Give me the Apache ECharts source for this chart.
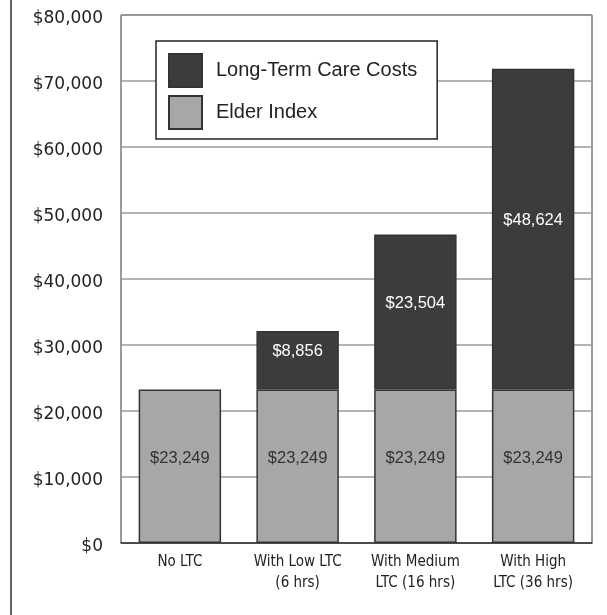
<!DOCTYPE html>
<html><head><meta charset="utf-8">
<script src="https://cdn.jsdelivr.net/npm/echarts@6/dist/echarts.min.js"></script>
<style>html,body{margin:0;padding:0;background:#fff}#c{width:607px;height:615px}</style>
</head><body><div id="c"></div>
<script>
const categories = ['No LTC', 'With Low LTC\n(6 hrs)', 'With Medium\nLTC (16 hrs)', 'With High\nLTC (36 hrs)'];
const elderIndex = [23249, 23249, 23249, 23249];
const ltcCosts = [0, 8856, 23504, 48624];
const yTicks = { min: 0, max: 80000, interval: 10000 };

const fmt = v => '$' + v.toLocaleString('en-US');
const chart = echarts.init(document.getElementById('c'), null, { renderer: 'canvas' });
chart.setOption({
  animation: false,
  backgroundColor: '#fff',
  textStyle: { fontFamily: 'Liberation Sans' },
  grid: { left: 121, right: 15, top: 15, bottom: 72, show: true, borderColor: '#333', borderWidth: 1, backgroundColor: 'transparent' },
  graphic: [{ type: 'line', shape: { x1: 11, y1: 0, x2: 11, y2: 615 }, style: { stroke: '#333', lineWidth: 1.5 } }],
  legend: {
    orient: 'vertical', left: 156, top: 41,
    padding: [12, 20, 9, 12],
    backgroundColor: '#fff', borderColor: '#222', borderWidth: 1.5,
    itemWidth: 33, itemHeight: 33, itemGap: 7,
    icon: 'rect',
    textStyle: { fontSize: 20, color: '#222', padding: [0, 0, 0, 9] },
    data: ['Long-Term Care Costs', 'Elder Index']
  },
  xAxis: {
    type: 'category', data: categories,
    axisLine: { show: true, lineStyle: { color: '#333', width: 1.5 } },
    axisTick: { show: false },
    axisLabel: { fontSize: 15, color: '#222', margin: 9, lineHeight: 21, fontFamily: "'DejaVu Sans Condensed', Roboto, sans-serif" }
  },
  yAxis: {
    type: 'value', min: yTicks.min, max: yTicks.max, interval: yTicks.interval,
    axisLine: { show: false }, axisTick: { show: false },
    splitLine: { lineStyle: { color: '#9a9a9a', width: 1.5 } },
    axisLabel: {
      fontSize: 17, color: '#222', margin: 18, fontFamily: 'DejaVu Sans',
      formatter: v => '{v|' + fmt(v) + '}',
      rich: { v: { fontSize: 17, color: '#222', fontFamily: 'DejaVu Sans', padding: [7, 0, 0, 0] } }
    }
  },
  series: [
    {
      name: 'Elder Index', type: 'bar', stack: 'a', data: elderIndex,
      barCategoryGap: '30%', z: 3,
      itemStyle: { color: '#a7a7aa', borderColor: '#333', borderWidth: 1.5 },
      label: { show: true, position: 'inside', offset: [0, -8], color: '#333', fontSize: 16.5, formatter: p => fmt(p.value) }
    },
    {
      name: 'Long-Term Care Costs', type: 'bar', stack: 'a',
      data: ltcCosts.map(v => v === 0 ? '-' : v), z: 3,
      itemStyle: { color: '#3c3c3c', borderColor: '#333', borderWidth: 1.5 },
      label: { show: true, position: 'inside', offset: [0, -9], color: '#fff', fontSize: 16.5, formatter: p => fmt(p.value) }
    }
  ]
});
</script></body></html>
